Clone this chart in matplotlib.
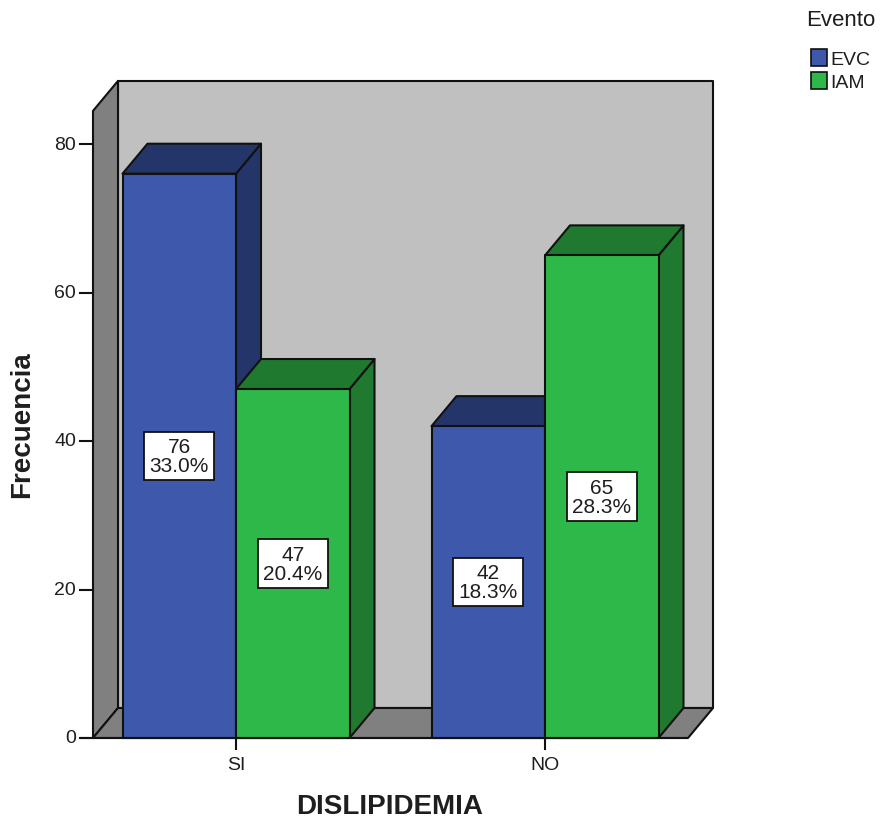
import numpy as np
import matplotlib.pyplot as plt
from matplotlib.patches import Polygon, Patch

plt.rcParams['font.family'] = ['Liberation Sans', 'DejaVu Sans']

categories = ['SI', 'NO']
series = ['EVC', 'IAM']
counts = {'EVC': [76, 42], 'IAM': [47, 65]}
percents = {'EVC': ['33.0%', '18.3%'], 'IAM': ['20.4%', '28.3%']}
yticks = [0, 20, 40, 60, 80]

front_colors = {'EVC': '#3e58ab', 'IAM': '#2eb84a'}
shade_colors = {'EVC': '#243569', 'IAM': '#1f7a2f'}
text_color = '#1e1e1e'

# layout in pixels (x) and frequency units (y)
px_per_unit = 7.425
base_px = 739
depth_x = 25
depth_y = 30 / px_per_unit
group_x = [236, 545]
bar_w = 113.5
floor_x0, floor_x1 = 93, 688
wall_top = 88.5

fig = plt.figure(figsize=(8.82, 8.20), dpi=100)
ax = fig.add_axes([0, 0, 1, 1])
ax.set_xlim(0, 882)
ax.set_ylim(-(820 - base_px) / px_per_unit, base_px / px_per_unit)
ax.axis('off')

lw = 1.5
ec = '#111111'


def poly(pts, fc, z):
    ax.add_patch(Polygon(pts, closed=True, facecolor=fc, edgecolor=ec,
                         linewidth=lw, joinstyle='round', zorder=z))


# back wall, left wall, floor
poly([(floor_x0 + depth_x, depth_y), (floor_x1 + depth_x, depth_y),
      (floor_x1 + depth_x, wall_top), (floor_x0 + depth_x, wall_top)], '#c0c0c0', 1)
poly([(floor_x0, 0), (floor_x0 + depth_x, depth_y),
      (floor_x0 + depth_x, wall_top), (floor_x0, wall_top - depth_y)], '#808080', 1)
poly([(floor_x0, 0), (floor_x1, 0), (floor_x1 + depth_x, depth_y),
      (floor_x0 + depth_x, depth_y)], '#808080', 1)

# 3D bars
z = 2
for i, cx in enumerate(group_x):
    for j, s in enumerate(series):
        v = counts[s][i]
        x0 = cx - bar_w + j * bar_w
        x1 = x0 + bar_w
        poly([(x1, 0), (x1 + depth_x, depth_y), (x1 + depth_x, v + depth_y), (x1, v)],
             shade_colors[s], z)
        poly([(x0, v), (x1, v), (x1 + depth_x, v + depth_y), (x0 + depth_x, v + depth_y)],
             shade_colors[s], z)
        poly([(x0, 0), (x1, 0), (x1, v), (x0, v)], front_colors[s], z)
        ax.text((x0 + x1) / 2, v / 2, f'{v}\n{percents[s][i]}', ha='center', va='center',
                fontsize=15, color=text_color, linespacing=1.0, zorder=z + 1,
                bbox=dict(boxstyle='square,pad=0.25', fc='white', ec=ec, lw=1.3))
        z += 1

# axis lines and ticks
ax.plot([80, floor_x1], [0, 0], color=ec, lw=lw, zorder=20, solid_capstyle='butt')
for t in yticks:
    ax.plot([80, floor_x0], [t, t], color=ec, lw=lw, zorder=20)
    ax.text(76, t, str(t), ha='right', va='center', fontsize=14, color=text_color)
for cx, name in zip(group_x, categories):
    ax.plot([cx, cx], [0, -11 / px_per_unit], color=ec, lw=lw, zorder=20)
    ax.text(cx, -27 / px_per_unit, name, ha='center', va='center', fontsize=14,
            color=text_color)

ax.text(390, -68 / px_per_unit, 'DISLIPIDEMIA', ha='center', va='center',
        fontsize=20, fontweight='bold', color=text_color)
ax.text(22, (base_px - 425) / px_per_unit, 'Frecuencia', ha='center', va='center',
        rotation=90, fontsize=20, fontweight='bold', color=text_color)

# legend
fig.text(841 / 882, 1 - 20 / 820, 'Evento', ha='center', va='center',
         fontsize=16, color=text_color)
handles = [Patch(facecolor=front_colors[s], edgecolor=ec, linewidth=1.2) for s in series]
leg = fig.legend(handles, series, loc='upper left',
                 bbox_to_anchor=(797 / 882, 1 - 36 / 820), frameon=False,
                 fontsize=14, handlelength=0.85, handleheight=1.0,
                 handletextpad=0.15, labelspacing=0.2, borderpad=0.2)
for t in leg.get_texts():
    t.set_color(text_color)

fig.savefig('out.png', dpi=100)
